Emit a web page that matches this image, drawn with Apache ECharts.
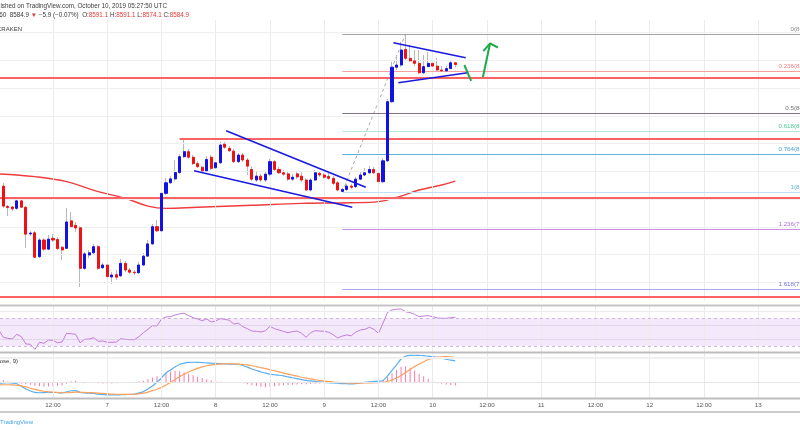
<!DOCTYPE html>
<html><head><meta charset="utf-8">
<script src="https://cdn.jsdelivr.net/npm/echarts@6/dist/echarts.min.js"></script>
<style>html,body{margin:0;padding:0;background:#fff}#c{width:800px;height:430px}</style>
</head><body><div id="c"></div>
<script>
// ---------- DATA (hourly BTCUSD, KRAKEN; hour 0 = Oct 6 00:00 UTC) ----------
const firstCandleHour = 1;
const openPrices = [8147,8074,8072,8067,8094,8071,7975,7979,7893,7953, 7920,7959,7955,7927,7923,8022,8006,7997,7851,7899,
 7907,7929,7853,7863,7820,7828,7824,7869,7845,7837, 7835,7863,7895,7939,8001,7986,8121,8159,8173,8196,
 8253,8271,8251,8228,8215,8202,8251,8213,8231,8298, 8283,8273,8235,8259,8241,8207,8169,8183,8169,8190,
 8235,8207,8195,8191,8172,8191,8183,8169,8133,8169, 8193,8187,8182,8175,8159,8128,8135,8147,8145,8172,
 8187,8195,8207,8193,8163,8238,8451,8575,8583,8639, 8607,8598,8589,8555,8577,8589,8579,8565,8562,8570, 8591.1];
const closePrices = [8075,8070,8065,8094,8071,7974,7978,7891,7953,7920, 7956,7953,7922,7917,8018,8001,7996,7851,7903,7907,
 7929,7851,7863,7821,7827,7819,7869,7845,7837,7835, 7863,7895,7939,8001,7986,8121,8159,8173,8196,8253,
 8271,8251,8228,8217,8202,8243,8211,8231,8295,8287, 8274,8235,8259,8241,8219,8172,8183,8169,8190,8235,
 8207,8195,8190,8172,8179,8180,8169,8133,8169,8195, 8187,8179,8175,8157,8133,8135,8147,8143,8172,8187,
 8195,8207,8195,8163,8238,8451,8575,8583,8637,8607, 8598,8589,8555,8577,8589,8579,8565,8562,8570,8591, 8584.9];
const lowPrices = [8068,8039,8057,8061,8068,7924,7967,7888,7888,7913, 7917,7946,7917,7881,7921,7996,7982,7784,7845,7888,
 7903,7845,7849,7773,7795,7809,7820,7838,7831,7827, 7831,7859,7892,7935,7982,7982,8115,8155,8165,8191,
 8248,8245,8223,8212,8198,8198,8205,8209,8227,8281, 8270,8230,8230,8234,8187,8165,8162,8162,8162,8183,
 8201,8191,8183,8165,8165,8173,8162,8129,8128,8165, 8180,8173,8169,8151,8128,8126,8129,8137,8140,8169,
 8183,8191,8191,8158,8158,8234,8446,8565,8576,8601, 8594,8579,8551,8551,8576,8572,8558,8558,8561,8569, 8574.1];
const highPrices = [8158,8079,8075,8101,8101,8075,7985,7985,7960,7960, 7971,7975,7964,7931,8068,8054,8018,8003,7910,7917,
 7939,7935,7870,7870,7838,7845,7885,7877,7852,7845, 7874,7906,7953,8011,8025,8133,8176,8183,8241,8263,
 8313,8281,8259,8237,8219,8255,8259,8241,8306,8306, 8291,8281,8266,8266,8248,8219,8198,8191,8198,8245,
 8241,8216,8205,8201,8191,8201,8198,8176,8176,8205, 8201,8194,8194,8183,8165,8141,8155,8155,8180,8198,
 8212,8219,8216,8201,8248,8461,8594,8619,8666,8695, 8655,8637,8637,8619,8630,8619,8608,8579,8579,8599, 8591.1];

const maHours  = [0,8,15,22,28,33,37,44,56,67,78,84,89,93,98,101];
const maValues = [8191,8181,8163,8127,8103,8075,8067,8071,8078,8085,8087,8091,8111,8133,8151,8165];

const indicatorStartHour = 0;
const rsiValues = [53.2, 42.6,41.2,40.2,47,43.5,33,32.5,25.3,35.4,34, 38.7,38.3,34.8,35.8,48.4,47.8,47,34.8,39.7,40.2,
 42,36.9,37.3,35.4,35.4,35.8,40.6,39.7,39.2,39.2, 43.5,49.3,54.2,59.4,59,69.1,72,72.4,74.8,76.5,
 77.3,73.8,70.9,69.1,66.6,69.1,64.7,66.2,69.5,68.6, 67.2,61.8,62.9,58,55,51.7,51.3,50.3,52.2,58.5,
 55.1,53.2,51,49.3,50.7,51.7,48.4,42.6,49.3,52.2, 51.7,51.3,49.9,46.4,41.6,44.5,46,44.9,50.3,53.2,
 54.2,57.1,54.2,48.4,62.9,78.7,82.1,83.1,83.5,79.6, 78.2,75.8,72.4,73.4,73.8,72.4,70.5,70.1,70.1,70.9, 71.5];
const macdValues = [-4, -2.8,-1.6,-3.6,-6,-16.8,-26.8,-34.8,-40.8,-42,-41.6, -40,-40.8,-41.6,-42.8,-38.8,-34,-33.6,-40.8,-42.8,-44,
 -44.8,-47.6,-49.2,-50.8,-50.8,-50.8,-50,-49.2,-48.8,-48, -42.8,-37.6,-26.8,-14.8,1.2,17.2,37.2,49.2,61.2,71.2,
 76.4,79.2,80,79.6,78.4,77.6,76.4,75.2,74.8,73.6, 72.4,72,72,67.2,60.4,53.2,47.2,41.2,36.4,32,
 30,28,25.2,21.2,18,14.4,10.8,7.2,5.2,3.2, 1.2,-0.4,-1.6,-2.8,-4,-5.2,-6,-6.8,-5.2,-2.8,
 -0.8,1.2,3.2,4,7.2,25.2,47.2,69.2,93.2,104, 107.6,108,107.2,106.4,104.4,102.4,99.2,96.4,92.4,88.4, 85.2];
const signalValues = [-10.8, -10,-10,-10.8,-12.4,-14.8,-18.8,-24,-28.8,-33.2,-36, -38,-39.6,-40.8,-42,-42,-40.8,-39.6,-40,-40.8,-41.6,
 -42.4,-43.6,-44.8,-46,-47.2,-48,-48.4,-48.4,-48.4,-48, -46.4,-43.6,-39.2,-33.6,-28,-20.4,-10.8,-0.8,10.8,22,
 32,41.2,49.2,55.6,61.2,66,69.2,71.6,72.8,73.6, 74,73.6,72.8,71.2,69.2,66,62.8,58.8,54.8,50.4,
 46,41.2,36.8,32.4,28.4,24,20,16.4,13.2,10, 7.2,4.8,2.8,0.8,-0.8,-2,-2.8,-3.6,-3.6,-3.2,
 -2.8,-2.4,-2,-1.6,0,4,9.2,17.2,26.8,38.8, 50.8,62.8,73.2,82,90.8,96.4,100.4,102,102.4,101.2, 98.8];
const histValues = [2, 9,3,-2,-3,-6,-8,-10,-14,-16,-18, -17,-16,-14,-12,-6,4,6,-2,-4,-2,
 -1,-4,-5,-6,-5,-4,-3,-2,-2,-1, 3,6,12,18,24,30,36,42,46,44,
 40,34,28,22,17,12,7,4,2,0, -1,-2,-3,-4,-8,-12,-15,-18,-20,-18,
 -16,-14,-12,-11,-10,-9,-8,-8,-7,-6, -5,-4,-3,-3,-3,-3,-3,-2,-1,0,
 2,3,4,5,8,20,36,50,62,64, 58,46,34,24,14,6,-4,-6,-9,-11, -13];

const priceGridLevels = [7800,7900,8000,8100,8200,8300,8400,8500,8600,8700];
const timeTickHours = [12,24,36,48,60,72,84,96,108,120,132,144,156,168];
const dayLabels = {24:'7', 48:'8', 72:'9', 96:'10', 120:'11', 144:'12', 168:'13'};
const redLevels = [8536, 8317, 8104, 7748];
const redLevelStartHours = [0.27, 40, 0.27, 0.27];
const fibLowHour = 76, fibLow = 8126, fibHighHour = 90, fibHigh = 8695;
const fibLevels = [0, 0.236, 0.5, 0.618, 0.764, 1, 1.236, 1.618];
const fibLineColors  = ['#a3a3a3','#f6a0a0','#8a7080','#b5e8d4','#5fafdb','#bde2f4','#c892e4','#a9a9ef'];
const fibLabelColors = ['#8a8a8a','#ef8080','#6e6e6e','#4fc596','#4a9fd0','#5bb4e2','#b06fd4','#7878de'];
const channelUpper = [[50.3, 8346],[81.2, 8143]];
const channelLower = [[43.2, 8202],[78.2, 8071]];
const triangleUpper = [[87.3, 8663],[103.3, 8609]];
const triangleLower = [[88.4, 8519],[103.7, 8555]];
const greenDown = [[103, 8583],[104.5, 8526]];
const greenUp = [[107.1, 8539],[108.7, 8661]];
const greenHead = [[107.2, 8633],[108.7, 8661],[110.4, 8646]];

// ---------- BUILD ----------
const FONT = 'Liberation Sans, Arial, sans-serif';
const candleHours = openPrices.map((_, i) => firstCandleHour + i);
const wickData = candleHours.map((h, i) => [h, openPrices[i], closePrices[i], lowPrices[i], highPrices[i]]);
const bodyData = candleHours.map((h, i) => [h, openPrices[i], closePrices[i],
  Math.min(openPrices[i], closePrices[i]), Math.max(openPrices[i], closePrices[i])]);
const indHour = i => indicatorStartHour + i;
const XMIN = 0.27, XMAX = 177.26;

function xAxis(grid, showLabels) {
  return {
    type: 'value', gridIndex: grid, min: XMIN, max: XMAX,
    axisLine: {show: false}, axisTick: {show: false}, splitLine: {show: false},
    axisLabel: showLabels ? {
      show: true, margin: 4, fontSize: 6.2, color: '#555', fontFamily: FONT,
      customValues: timeTickHours,
      formatter: v => (dayLabels[v] || '12:00')
    } : {show: false}
  };
}
function vGrid(gi) {
  return {type: 'line', xAxisIndex: gi, yAxisIndex: gi, data: [], z: 1, silent: true,
    markLine: {silent: true, symbol: ['none','none'], label: {show: false}, animation: false,
      lineStyle: {color: '#ebebeb', width: 1, type: 'solid'},
      data: timeTickHours.map(h => ({xAxis: h}))}};
}
function seg(pts, color, width, type, z) {
  return {type: 'line', xAxisIndex: 0, yAxisIndex: 0, data: pts, symbol: 'none', silent: true,
    lineStyle: {color, width, type: type || 'solid'}, z: z || 6, animation: false};
}

const fibMarks = fibLevels.map((lv, i) => {
  const v = fibHigh - lv * (fibHigh - fibLow);
  return [{coord: [fibLowHour, v], lineStyle: {color: fibLineColors[i], width: 1, type: 'solid'},
    label: {show: true, position: 'insideEndTop', distance: 2, offset: [19, 0],
      formatter: lv + '(' + v.toFixed(1) + ')',
      color: fibLabelColors[i], fontSize: 6.2, fontFamily: FONT}},
    {coord: [XMAX, v]}];
});

const option = {
  animation: false,
  backgroundColor: '#ffffff',
  grid: [
    {left: 0, right: 0, top: 20, height: 280},
    {left: 0, right: 0, top: 306, height: 47},
    {left: 0, right: 0, top: 353, height: 45}
  ],
  xAxis: [xAxis(0, false), xAxis(1, false), xAxis(2, true)],
  yAxis: [
    {gridIndex: 0, type: 'value', min: 7737, max: 8745, show: false},
    {gridIndex: 1, type: 'value', min: 20, max: 87.8, show: false},
    {gridIndex: 2, type: 'value', min: -63, max: 117, show: false}
  ],
  series: [
    vGrid(0), vGrid(1), vGrid(2),
    {type: 'line', xAxisIndex: 0, yAxisIndex: 0, data: [], z: 1, silent: true,
      markLine: {silent: true, symbol: ['none','none'], label: {show: false}, animation: false,
        lineStyle: {color: '#efefef', width: 1, type: 'solid'},
        data: priceGridLevels.map(p => ({yAxis: p}))}},
    {type: 'line', xAxisIndex: 0, yAxisIndex: 0, data: [], z: 2, silent: true,
      markLine: {silent: true, symbol: ['none','none'], animation: false,
        data: fibMarks}},
    {type: 'line', xAxisIndex: 0, yAxisIndex: 0, data: [], z: 3, silent: true,
      markLine: {silent: true, symbol: ['none','none'], label: {show: false}, animation: false,
        lineStyle: {color: '#ff6262', width: 2, type: 'solid'},
        data: redLevels.map((p, i) => [{coord: [redLevelStartHours[i], p]}, {coord: [XMAX, p]}])}},
    {type: 'line', xAxisIndex: 0, yAxisIndex: 0, data: maHours.map((h, i) => [h, maValues[i]]),
      smooth: 0.4, symbol: 'none', silent: true, z: 3, lineStyle: {color: '#ef3b3b', width: 1.4}},
    seg([[fibLowHour, fibLow], [fibHighHour, fibHigh]], '#a8a8a8', 1, [3, 3], 3),
    {type: 'candlestick', xAxisIndex: 0, yAxisIndex: 0, data: wickData, barWidth: 1, z: 4, silent: true,
      encode: {x: 0, y: [1, 2, 3, 4]},
      itemStyle: {color: '#b8b8b8', color0: '#b8b8b8', borderColor: '#b8b8b8', borderColor0: '#b8b8b8', borderWidth: 1}},
    {type: 'candlestick', xAxisIndex: 0, yAxisIndex: 0, data: bodyData, barWidth: 2.6, z: 5, silent: true,
      encode: {x: 0, y: [1, 2, 3, 4]},
      itemStyle: {color: '#1212e6', color0: '#f01212', borderColor: '#1212e6', borderColor0: '#f01212', borderWidth: 1}},
    seg(channelUpper, '#1a1ae0', 1.6),
    seg(channelLower, '#1a1ae0', 1.6),
    seg(triangleUpper, '#1a1ae0', 1.6),
    seg(triangleLower, '#1a1ae0', 1.6),
    seg(greenDown, '#1faa4a', 2),
    seg(greenUp, '#1faa4a', 2),
    seg(greenHead, '#1faa4a', 2),
    // RSI
    {type: 'line', xAxisIndex: 1, yAxisIndex: 1, data: rsiValues.map((v, i) => [indHour(i), v]),
      symbol: 'none', silent: true, z: 4, lineStyle: {color: '#c27ddb', width: 1},
      markArea: {silent: true, itemStyle: {color: 'rgba(200,140,235,0.2)'}, data: [[{yAxis: 30}, {yAxis: 70}]]},
      markLine: {silent: true, symbol: ['none','none'], label: {show: false}, animation: false,
        data: [
          {yAxis: 70, lineStyle: {color: '#cdb6dc', type: [3, 3], width: 1}},
          {yAxis: 30, lineStyle: {color: '#cdb6dc', type: [3, 3], width: 1}},
          {yAxis: 80, lineStyle: {color: '#ececec', type: 'solid', width: 1}},
          {yAxis: 60, lineStyle: {color: 'rgba(200,190,210,0.45)', type: 'solid', width: 1}},
          {yAxis: 40, lineStyle: {color: 'rgba(200,190,210,0.45)', type: 'solid', width: 1}}
        ]}},
    // MACD
    {type: 'bar', xAxisIndex: 2, yAxisIndex: 2, data: histValues.map((v, i) => [indHour(i), v]),
      barWidth: 1, silent: true, z: 3, itemStyle: {color: '#f57aa8'},
      markLine: {silent: true, symbol: ['none','none'], label: {show: false}, animation: false,
        data: [
          {yAxis: 0, lineStyle: {color: '#e6e6e6', type: 'solid', width: 1}},
          {yAxis: 97, lineStyle: {color: '#f0f0f0', type: 'solid', width: 2}}
        ]}},
    {type: 'line', xAxisIndex: 2, yAxisIndex: 2, data: macdValues.map((v, i) => [indHour(i), v]),
      symbol: 'none', silent: true, z: 4, smooth: 0.3, lineStyle: {color: '#5aaff0', width: 1.2}},
    {type: 'line', xAxisIndex: 2, yAxisIndex: 2, data: signalValues.map((v, i) => [indHour(i), v]),
      symbol: 'none', silent: true, z: 4, smooth: 0.3, lineStyle: {color: '#ff9f5c', width: 1.2}}
  ],
  graphic: [
    {type: 'line', shape: {x1: 0, y1: 305.5, x2: 800, y2: 305.5}, style: {stroke: '#c6c6c6', lineWidth: 2}, z: 10},
    {type: 'line', shape: {x1: 0, y1: 352.5, x2: 800, y2: 352.5}, style: {stroke: '#bdbdbd', lineWidth: 2}, z: 10},
    {type: 'line', shape: {x1: 0, y1: 398.5, x2: 800, y2: 398.5}, style: {stroke: '#bdbdbd', lineWidth: 2}, z: 10},
    {type: 'line', shape: {x1: 0, y1: 412, x2: 800, y2: 412}, style: {stroke: '#cccccc', lineWidth: 2}, z: 10},
    {type: 'text', x: 167, y: 6, z: 10, style: {text: 'Published on TradingView.com, October 10, 2019 05:27:50 UTC',
      align: 'right', verticalAlign: 'middle', fill: '#3a3a3a', font: '6.3px ' + FONT}},
    {type: 'text', x: 189, y: 15, z: 10, style: {
      text: '{d|BTCUSD, 60  8584.9 }{r|▼}{d| −5.9 (−0.07%)  O:}{r|8591.1}{d| H:}{r|8591.1}{d| L:}{r|8574.1}{d| C:}{r|8584.9}',
      align: 'right', verticalAlign: 'middle',
      rich: {d: {fill: '#3a3a3a', font: '6.3px ' + FONT}, r: {fill: '#e53935', font: '6.3px ' + FONT}}}},
    {type: 'text', x: 22, y: 29.5, z: 10, style: {text: 'KRAKEN', align: 'right', verticalAlign: 'middle',
      fill: '#3a3a3a', font: '6px ' + FONT}},
    {type: 'text', x: 18, y: 361, z: 10, style: {text: 'MACD (12, 26, close, 9)', align: 'right', verticalAlign: 'middle',
      fill: '#3a3a3a', font: '6px ' + FONT}},
    {type: 'text', x: 0, y: 422, z: 10, style: {text: 'TradingView', align: 'left', verticalAlign: 'middle',
      fill: '#45a3e0', font: '6px ' + FONT}}
  ]
};
const chart = echarts.init(document.getElementById('c'), null, {renderer: 'canvas'});
chart.setOption(option);
</script></body></html>
